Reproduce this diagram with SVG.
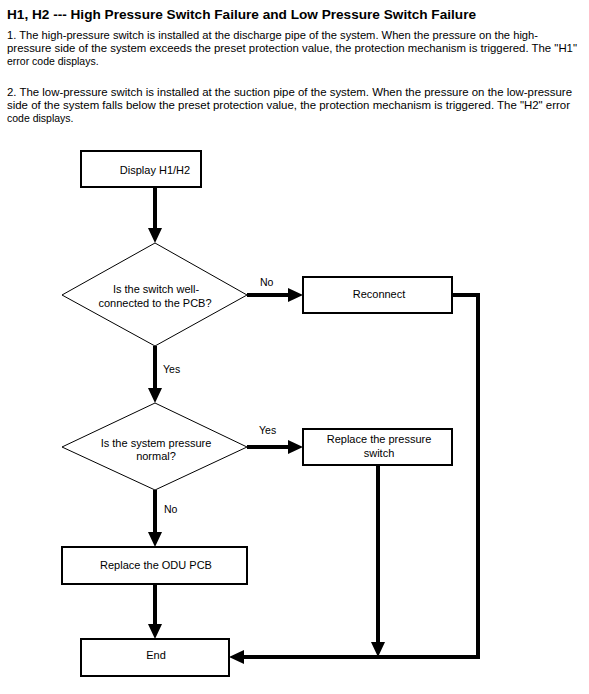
<svg xmlns="http://www.w3.org/2000/svg" width="589" height="694" viewBox="0 0 589 694">
<style>
text{font-family:"Liberation Sans",Arial,sans-serif;fill:#000}
.title{font-size:13px;font-weight:bold}
.body{font-size:10.5px}
.lbl{font-size:11px;text-anchor:middle}
.edge{font-size:10.5px}
.box{fill:#fff;stroke:#000;stroke-width:2}
.dia{fill:#fff;stroke:#000;stroke-width:1}
.conn{fill:none;stroke:#000;stroke-width:4;marker-end:url(#ah)}
</style>
<defs>
<marker id="ah" viewBox="0 0 15 14" refX="0" refY="7" markerWidth="15" markerHeight="14" markerUnits="userSpaceOnUse" orient="auto">
<path d="M0,0 L15,7 L0,14 z" fill="#000"/>
</marker>
</defs>
<rect width="589" height="694" fill="#fff"/>
<g id="header">
<text class="title" x="7" y="18.5" textLength="469" lengthAdjust="spacingAndGlyphs">H1, H2 --- High Pressure Switch Failure and Low Pressure Switch Failure</text>
<text class="body" x="7" y="38.5" textLength="531" lengthAdjust="spacingAndGlyphs">1. The high-pressure switch is installed at the discharge pipe of the system. When the pressure on the high-</text>
<text class="body" x="7" y="51.5" textLength="570" lengthAdjust="spacingAndGlyphs">pressure side of the system exceeds the preset protection value, the protection mechanism is triggered. The "H1"</text>
<text class="body" x="7" y="64.5">error code displays.</text>
<text class="body" x="7" y="95.5" textLength="565" lengthAdjust="spacingAndGlyphs">2. The low-pressure switch is installed at the suction pipe of the system. When the pressure on the low-pressure</text>
<text class="body" x="7" y="108.5" textLength="563" lengthAdjust="spacingAndGlyphs">side of the system falls below the preset protection value, the protection mechanism is triggered. The "H2" error</text>
<text class="body" x="7" y="121.5">code displays.</text>
</g>
<g id="connectors">
<path class="conn" d="M155,188 L155,228"/>
<path class="conn" d="M247,295 L288,295"/>
<path class="conn" d="M452,295 L478,295 L478,657 L244,657"/>
<path class="conn" d="M155,346 L155,388"/>
<path class="conn" d="M247,447 L288,447"/>
<path class="conn" d="M378,465 L378,642"/>
<path class="conn" d="M155,490 L155,532"/>
<path class="conn" d="M155,584 L155,624"/>
<text class="edge" x="260" y="286">No</text>
<text class="edge" x="163" y="373">Yes</text>
<text class="edge" x="259" y="434">Yes</text>
<text class="edge" x="164" y="513">No</text>
</g>
<g id="n-display">
<rect class="box" x="81" y="151" width="120" height="36"/>
<text class="lbl" x="155" y="173.5">Display H1/H2</text>
</g>
<g id="n-switch">
<polygon class="dia" points="155,243 247,295 155,346 62,295"/>
<text class="lbl" x="156" y="293">Is the switch well-</text>
<text class="lbl" x="155" y="307">connected to the PCB?</text>
</g>
<g id="n-reconnect">
<rect class="box" x="303" y="277" width="149" height="36"/>
<text class="lbl" x="379" y="298">Reconnect</text>
</g>
<g id="n-pressure">
<polygon class="dia" points="155,403 247,447 155,490 62,447"/>
<text class="lbl" x="156" y="447">Is the system pressure</text>
<text class="lbl" x="156" y="460">normal?</text>
</g>
<g id="n-replace-switch">
<rect class="box" x="303" y="429" width="149" height="36"/>
<text class="lbl" x="379" y="443">Replace the pressure</text>
<text class="lbl" x="379" y="457">switch</text>
</g>
<g id="n-replace-pcb">
<rect class="box" x="62" y="547" width="185" height="37"/>
<text class="lbl" x="156" y="569">Replace the ODU PCB</text>
</g>
<g id="n-end">
<rect class="box" x="81" y="639" width="148" height="37"/>
<text class="lbl" x="156" y="659">End</text>
</g>
</svg>
